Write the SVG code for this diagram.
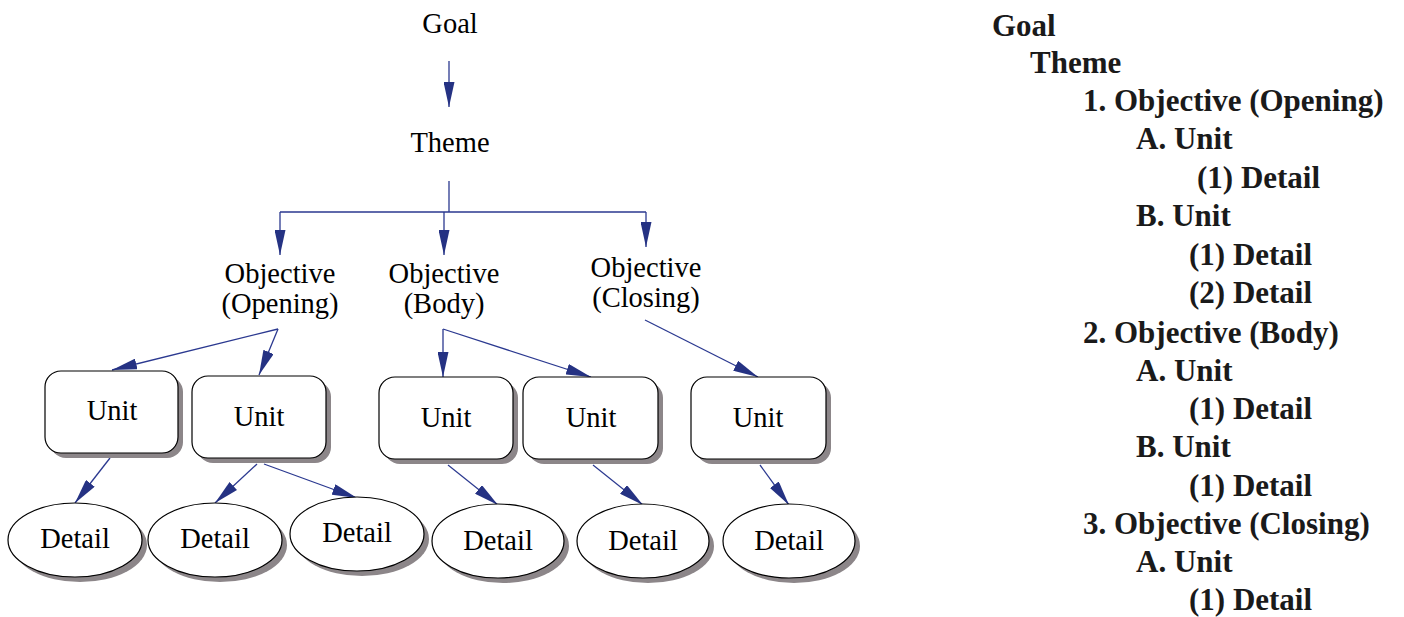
<svg xmlns="http://www.w3.org/2000/svg" width="1404" height="617" viewBox="0 0 1404 617">
<defs>
<style>
.t{font-family:"Liberation Serif","Times New Roman",serif;font-size:28.5px;fill:#000;text-anchor:middle}
.o{font-family:"Liberation Serif","Times New Roman",serif;font-size:31px;font-weight:bold;fill:#1a1a1a}
.box{fill:#fff;stroke:#000;stroke-width:1.2}
.sh{fill:#8c8689;stroke:none}
.c{fill:none;stroke:#2b3990;stroke-width:1.3}
.a{marker-end:url(#ah)}
</style>
<marker id="ah" viewBox="0 0 25 11" refX="25" refY="5.5" markerWidth="25" markerHeight="11" markerUnits="userSpaceOnUse" orient="auto">
<path d="M0,0 L25,5.5 L0,11 z" fill="#253283"/>
</marker>
</defs>
<rect width="1404" height="617" fill="#fff"/>

<g id="connectors">
<path class="c a" d="M449,61 V107"/>
<path class="c" d="M449,181 V212 M280,212 H646"/>
<path class="c a" d="M280,212 V255"/>
<path class="c a" d="M444,212 V255"/>
<path class="c a" d="M646,212 V247"/>
<path class="c a" d="M278,329 L112,370"/>
<path class="c a" d="M278,329 L259,375"/>
<path class="c a" d="M443,329 V377"/>
<path class="c a" d="M443,329 L591,377"/>
<path class="c a" d="M645,320 L758,377"/>
<path class="c a" d="M110,458 L75,503"/>
<path class="c a" d="M257,464 L215,503"/>
<path class="c a" d="M264,464 L357,498"/>
<path class="c a" d="M448,465 L498,505"/>
<path class="c a" d="M593,465 L643,505"/>
<path class="c a" d="M760,465 L789,505"/>
</g>

<g id="goal"><text class="t" x="450" y="33">Goal</text></g>
<g id="theme"><text class="t" x="450" y="152">Theme</text></g>
<g id="obj-opening"><text class="t" x="280" y="283">Objective</text><text class="t" x="280" y="313">(Opening)</text></g>
<g id="obj-body"><text class="t" x="444" y="283">Objective</text><text class="t" x="444" y="313">(Body)</text></g>
<g id="obj-closing"><text class="t" x="646" y="277">Objective</text><text class="t" x="646" y="307">(Closing)</text></g>

<g id="unit1"><rect class="sh" x="50" y="376" width="133" height="82" rx="16"/><rect class="box" x="45" y="371" width="133" height="82" rx="16"/><text class="t" x="112" y="420">Unit</text></g>
<g id="unit2"><rect class="sh" x="197" y="381" width="134" height="82" rx="16"/><rect class="box" x="192" y="376" width="134" height="82" rx="16"/><text class="t" x="259" y="426">Unit</text></g>
<g id="unit3"><rect class="sh" x="384" y="382" width="134" height="82" rx="16"/><rect class="box" x="379" y="377" width="134" height="82" rx="16"/><text class="t" x="446" y="427">Unit</text></g>
<g id="unit4"><rect class="sh" x="528" y="382" width="135" height="82" rx="16"/><rect class="box" x="523" y="377" width="135" height="82" rx="16"/><text class="t" x="591" y="427">Unit</text></g>
<g id="unit5"><rect class="sh" x="696" y="382" width="135" height="82" rx="16"/><rect class="box" x="691" y="377" width="135" height="82" rx="16"/><text class="t" x="758" y="427">Unit</text></g>

<g id="detail1"><ellipse class="sh" cx="80" cy="545" rx="67" ry="37"/><ellipse class="box" cx="75" cy="540" rx="67" ry="37"/><text class="t" x="75" y="548">Detail</text></g>
<g id="detail2"><ellipse class="sh" cx="220" cy="545" rx="67" ry="37"/><ellipse class="box" cx="215" cy="540" rx="67" ry="37"/><text class="t" x="215" y="548">Detail</text></g>
<g id="detail3"><ellipse class="sh" cx="362" cy="539" rx="67" ry="37"/><ellipse class="box" cx="357" cy="534" rx="67" ry="37"/><text class="t" x="357" y="542">Detail</text></g>
<g id="detail4"><ellipse class="sh" cx="503" cy="546" rx="66" ry="37"/><ellipse class="box" cx="498" cy="541" rx="66" ry="37"/><text class="t" x="498" y="550">Detail</text></g>
<g id="detail5"><ellipse class="sh" cx="648" cy="546" rx="66" ry="37"/><ellipse class="box" cx="643" cy="541" rx="66" ry="37"/><text class="t" x="643" y="550">Detail</text></g>
<g id="detail6"><ellipse class="sh" cx="794" cy="546" rx="66" ry="37"/><ellipse class="box" cx="789" cy="541" rx="66" ry="37"/><text class="t" x="789" y="550">Detail</text></g>

<g id="outline">
<text class="o" x="992" y="36">Goal</text>
<text class="o" x="1030" y="73">Theme</text>
<text class="o" x="1083" y="111">1. Objective (Opening)</text>
<text class="o" x="1136" y="149">A. Unit</text>
<text class="o" x="1197" y="188">(1) Detail</text>
<text class="o" x="1136" y="226">B. Unit</text>
<text class="o" x="1189" y="265">(1) Detail</text>
<text class="o" x="1189" y="303">(2) Detail</text>
<text class="o" x="1083" y="343">2. Objective (Body)</text>
<text class="o" x="1136" y="381">A. Unit</text>
<text class="o" x="1189" y="419">(1) Detail</text>
<text class="o" x="1136" y="457">B. Unit</text>
<text class="o" x="1189" y="496">(1) Detail</text>
<text class="o" x="1083" y="534">3. Objective (Closing)</text>
<text class="o" x="1136" y="572">A. Unit</text>
<text class="o" x="1189" y="610">(1) Detail</text>
</g>
</svg>
